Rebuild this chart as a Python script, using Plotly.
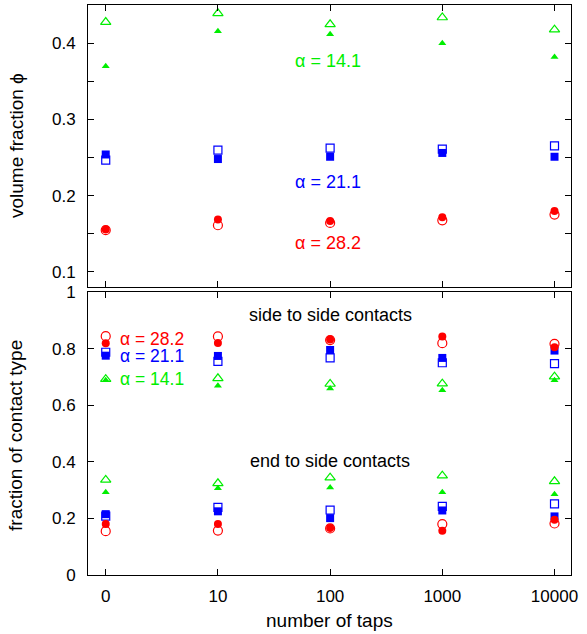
import plotly.graph_objects as go

taps = ["0", "10", "100", "1000", "10000"]

# volume fraction (top panel)
phi_open_14 = [0.428, 0.4395, 0.425, 0.434, 0.418]
phi_fill_14 = [0.370, 0.416, 0.412, 0.400, 0.382]
phi_open_21 = [0.2465, 0.2596, 0.2623, 0.261, 0.2654]
phi_fill_21 = [0.254, 0.248, 0.251, 0.256, 0.251]
phi_open_28 = [0.1545, 0.161, 0.164, 0.1675, 0.175]
phi_fill_28 = [0.1555, 0.1684, 0.1667, 0.1715, 0.1798]

# side to side contacts (bottom panel)
ss_open_28 = [0.844, 0.843, 0.830, 0.819, 0.817]
ss_fill_28 = [0.819, 0.820, 0.832, 0.843, 0.805]
ss_open_21 = [0.787, 0.755, 0.767, 0.750, 0.747]
ss_fill_21 = [0.775, 0.774, 0.795, 0.767, 0.793]
ss_open_14 = [0.692, 0.695, 0.675, 0.676, 0.701]
ss_fill_14 = [0.688, 0.669, 0.659, 0.653, 0.688]

# end to side contacts (bottom panel)
es_open_14 = [0.336, 0.324, 0.344, 0.351, 0.331]
es_fill_14 = [0.292, 0.3065, 0.309, 0.292, 0.285]
es_open_21 = [0.208, 0.239, 0.2296, 0.2426, 0.251]
es_fill_21 = [0.215, 0.225, 0.201, 0.228, 0.207]
es_open_28 = [0.155, 0.157, 0.1645, 0.180, 0.182]
es_fill_28 = [0.180, 0.180, 0.166, 0.156, 0.195]

RED = "#ff0000"
BLUE = "#0000ff"
GREEN = "#00ee00"
FONT = "Liberation Sans, Arial, sans-serif"

sym = {
    "14": ("triangle-up-open", "triangle-up", GREEN, 9, 7),
    "21": ("square-open", "square", BLUE, 8, 8),
    "28": ("circle-open", "circle", RED, 9, 8),
}

fig = go.Figure()

def add_pair(open_vals, fill_vals, key, xa, ya):
    so, sf, col, szo, szf = sym[key]
    fig.add_trace(go.Scatter(x=taps, y=open_vals, mode="markers", xaxis=xa, yaxis=ya,
                             marker=dict(symbol=so, size=szo, color=col, line=dict(width=1.2, color=col)),
                             showlegend=False, hoverinfo="skip"))
    fig.add_trace(go.Scatter(x=taps, y=fill_vals, mode="markers", xaxis=xa, yaxis=ya,
                             marker=dict(symbol=sf, size=szf, color=col, line=dict(width=0)),
                             showlegend=False, hoverinfo="skip"))

add_pair(phi_open_14, phi_fill_14, "14", "x", "y")
add_pair(phi_open_21, phi_fill_21, "21", "x", "y")
add_pair(phi_open_28, phi_fill_28, "28", "x", "y")

add_pair(ss_open_14, ss_fill_14, "14", "x2", "y2")
add_pair(ss_open_21, ss_fill_21, "21", "x2", "y2")
add_pair(ss_open_28, ss_fill_28, "28", "x2", "y2")
add_pair(es_open_14, es_fill_14, "14", "x2", "y2")
add_pair(es_open_21, es_fill_21, "21", "x2", "y2")
add_pair(es_open_28, es_fill_28, "28", "x2", "y2")

xrange = [-0.158, 4.147]
common_axis = dict(showline=True, linecolor="black", linewidth=1, mirror="ticks",
                   ticks="inside", ticklen=6, tickwidth=1, tickcolor="black",
                   showgrid=False, zeroline=False, automargin=False,
                   tickfont=dict(family=FONT, size=17, color="black"))

top_ticks = [0.1, 0.15, 0.2, 0.25, 0.3, 0.35, 0.4]
top_text = ["0.1", "", "0.2", "", "0.3", "", "0.4"]

fig.update_layout(
    width=587, height=634,
    margin=dict(l=88, r=16, t=5, b=59, pad=0, autoexpand=False),
    paper_bgcolor="white", plot_bgcolor="white",
    font=dict(family=FONT, size=18, color="black"),
    xaxis=dict(common_axis, type="category", range=xrange, anchor="y",
               showticklabels=False, domain=[0, 1]),
    yaxis=dict(common_axis, range=[0.0799, 0.4504], domain=[0.5053, 1], anchor="x",
               tickvals=top_ticks, ticktext=top_text, ticklabelstandoff=8),
    xaxis2=dict(common_axis, type="category", range=xrange, anchor="y2",
                ticklabelstandoff=6, domain=[0, 1]),
    yaxis2=dict(common_axis, range=[0, 1], domain=[0, 0.4965], anchor="x2",
                tickvals=[0, 0.2, 0.4, 0.6, 0.8, 1], ticktext=["0", "0.2", "0.4", "0.6", "0.8", "1"],
                ticklabelstandoff=8),
)

ann = []
def A(text, x, y, xref, yref, color="black", size=18, xanchor="center", angle=0, pad=1):
    ann.append(dict(text=text, x=x, y=y, xref=xref, yref=yref, showarrow=False,
                    font=dict(family=FONT, size=size, color=color), borderpad=pad,
                    xanchor=xanchor, yanchor="middle", textangle=angle))

A("α = 14.1", 1.981, 0.377, "x", "y", GREEN)
A("α = 21.1", 1.981, 0.218, "x", "y", BLUE)
A("α = 28.2", 1.981, 0.1377, "x", "y", RED)

A("side to side contacts", 2.0, 0.917, "x2", "y2")
A("end to side contacts", 2.0, 0.402, "x2", "y2")
A("α = 28.2", 0.118, 0.833, "x2", "y2", RED, size=17.5, xanchor="left", pad=0)
A("α = 21.1", 0.118, 0.773, "x2", "y2", BLUE, size=17.5, xanchor="left", pad=0)
A("α = 14.1", 0.118, 0.692, "x2", "y2", GREEN, size=17.5, xanchor="left", pad=0)

A("volume fraction ϕ", -0.149, 0.7526, "paper", "paper", size=19, angle=-90)
A("fraction of contact type", -0.149, 0.244, "paper", "paper", size=19, angle=-90)
A("number of taps", 0.499, -0.079, "paper", "paper", size=19)

fig.update_layout(annotations=ann)

fig.write_html("out.html")
